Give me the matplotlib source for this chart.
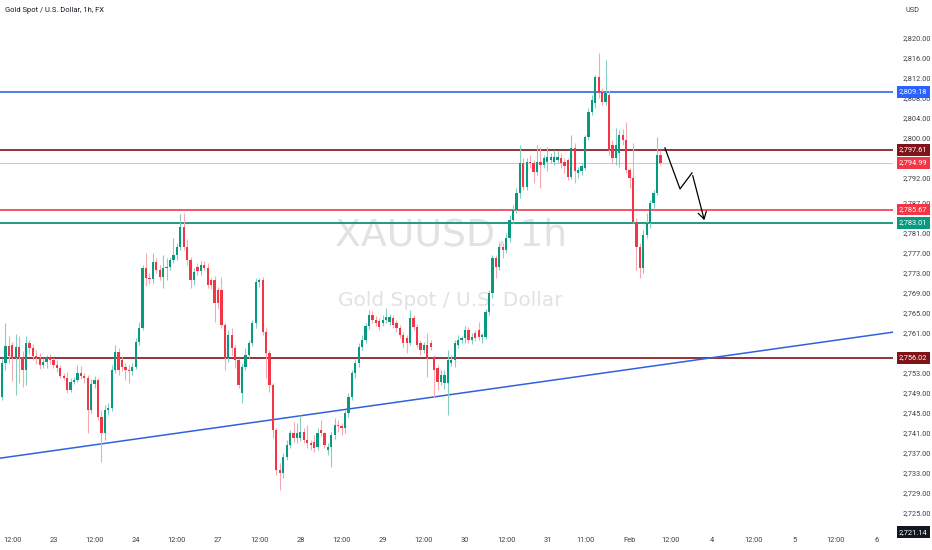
import matplotlib
matplotlib.use("Agg")
import matplotlib.pyplot as plt
from matplotlib.transforms import blended_transform_factory

# ---------------- data ----------------
opens = [
 2748.2,2754.9,2758.3,2758.5,2756.0,2758.2,2756.2,2753.6,2758.9,2757.9,2756.3,2755.9,2754.6,2755.2,2756.1,2755.5,2754.5,2753.9,2752.3,2752.0,
 2749.6,2751.2,2751.6,2752.9,2752.3,2752.0,2745.6,2750.8,2751.6,2744.2,2740.9,2745.6,2745.9,2753.6,2757.2,2755.6,2754.2,2753.6,2753.3,2754.2,
 2759.2,2761.9,2773.9,2771.9,2771.7,2775.2,2773.6,2772.2,2773.9,2774.2,2775.6,2776.6,2778.2,2782.2,2778.2,
 2775.6,2771.6,2774.2,2773.3,2774.6,2774.0,2771.6,2771.6,2769.6,2769.6,2762.6,2755.9,2760.6,2757.9,2755.6,2748.9,2754.2,2756.6,2759.0,2762.9,
 2771.2,2771.6,2761.2,2756.9,2750.6,2741.6,2733.6,2732.9,2736.2,2738.6,2740.9,2739.9,2739.9,2741.2,2739.6,2738.9,2739.2,2738.2,2741.6,2740.9,
 2737.6,2738.2,2740.6,2742.6,2742.3,2742.0,2744.9,2748.2,2752.9,2754.9,2758.2,2759.6,
 2762.3,2764.6,2763.6,2763.3,2762.9,2763.6,2763.2,2763.9,2762.9,2761.9,2760.6,2759.9,2758.9,2763.9,2762.2,2758.9,2757.6,2758.6,2758.9,2756.2,
 2753.9,2751.2,2750.9,2750.9,2754.9,2755.6,2758.6,2759.6,2760.0,2761.6,2759.6,2760.9,2761.6,2760.2,2760.2,2765.2,2768.9,2775.9,2774.2,2778.2,
 2777.6,2779.9,2783.6,2785.6,2788.9,2794.9,2790.2,2795.2,2794.9,2793.2,
 2795.2,2794.6,2795.2,2795.6,2795.2,2795.6,2795.9,2795.2,2795.6,2792.2,2797.9,2792.9,2793.3,2794.0,2800.2,2805.2,2806.9,2812.2,2809.2,2807.2,
 2808.6,2798.6,2795.9,2796.9,2800.6,2799.6,2793.6,2791.9,2783.2,2778.2,2773.9,2780.6,2782.9,2786.9,2788.9,2796.6,
]
highs = [
 2756.0,2762.9,2760.3,2759.2,2760.8,2760.3,2757.3,2760.3,2759.6,2758.8,2757.5,2757.0,2756.0,2756.6,2756.8,2756.0,2755.6,2754.5,2753.0,2753.2,
 2752.0,2752.2,2754.6,2754.3,2752.9,2752.6,2751.8,2752.3,2752.0,2745.6,2746.5,2746.9,2754.5,2758.6,2757.9,2756.2,2754.9,2754.5,2755.0,2759.9,
 2763.2,2774.5,2776.9,2773.0,2776.9,2776.0,2774.6,2776.5,2775.9,2776.2,2780.0,2779.0,2784.8,2785.0,2779.8,
 2776.2,2774.0,2775.0,2775.3,2775.4,2775.0,2772.0,2772.3,2770.2,2772.2,2763.0,2761.5,2762.0,2758.5,2756.0,2755.0,2758.0,2759.5,2763.5,2771.9,
 2772.0,2772.2,2762.0,2757.5,2751.0,2742.0,2735.0,2737.0,2739.5,2741.6,2743.2,2743.0,2744.6,2742.0,2742.5,2739.5,2740.6,2742.0,2743.6,2741.2,
 2739.0,2741.2,2743.9,2743.5,2743.0,2745.6,2749.0,2753.5,2755.6,2759.0,2760.6,2762.9,
 2765.6,2765.3,2764.3,2764.0,2764.6,2765.9,2764.8,2764.5,2763.5,2762.5,2761.2,2760.5,2765.6,2764.5,2762.8,2759.5,2759.2,2760.9,2759.5,2756.5,
 2754.5,2753.5,2753.5,2757.6,2756.5,2759.6,2760.5,2760.4,2762.3,2762.2,2760.9,2761.6,2763.2,2761.0,2765.8,2769.5,2776.5,2776.6,2779.0,2778.9,
 2781.0,2784.5,2786.5,2790.0,2798.6,2796.0,2796.0,2796.5,2795.6,2798.6,
 2798.2,2796.5,2798.2,2797.0,2797.5,2797.3,2797.0,2796.0,2796.0,2800.6,2799.0,2794.2,2795.0,2800.6,2806.0,2808.5,2812.6,2816.9,2810.0,2815.6,
 2809.5,2799.5,2802.0,2801.5,2801.8,2803.2,2794.0,2799.0,2784.0,2779.0,2781.5,2784.9,2787.5,2789.5,2800.2,2797.6,
]
lows = [
 2747.5,2753.5,2755.0,2751.3,2748.5,2751.0,2750.2,2750.5,2756.8,2755.5,2754.8,2753.8,2754.0,2753.9,2754.8,2753.9,2753.1,2751.9,2751.5,2748.9,
 2749.2,2750.8,2751.2,2751.7,2751.0,2741.0,2745.0,2749.9,2743.5,2735.2,2739.6,2744.5,2745.3,2753.0,2752.6,2753.4,2751.5,2751.0,2752.6,2753.8,
 2758.6,2761.5,2770.4,2770.8,2771.0,2773.0,2771.6,2769.9,2771.5,2773.5,2775.0,2775.5,2777.5,2777.5,2774.6,
 2770.0,2770.5,2772.6,2772.5,2773.6,2770.0,2769.8,2763.2,2765.8,2762.0,2753.6,2755.2,2756.5,2754.0,2749.9,2746.9,2753.6,2756.0,2758.4,2762.0,
 2770.2,2760.5,2751.9,2749.2,2740.0,2732.5,2729.6,2732.0,2735.5,2738.0,2739.2,2739.0,2739.3,2738.9,2737.9,2737.5,2737.2,2737.6,2740.3,2738.0,
 2736.5,2734.2,2739.8,2741.2,2740.5,2741.0,2744.2,2747.6,2752.0,2754.2,2757.5,2759.0,
 2761.8,2763.0,2762.3,2761.5,2762.3,2763.0,2762.6,2762.0,2761.2,2760.0,2758.2,2756.9,2758.5,2761.5,2758.0,2756.5,2757.0,2752.2,2757.5,2748.2,
 2749.5,2750.5,2749.8,2744.6,2754.3,2754.2,2758.0,2759.0,2759.0,2759.0,2758.8,2759.3,2759.5,2759.0,2759.8,2764.6,2768.0,2772.0,2773.5,2776.0,
 2777.0,2779.2,2782.9,2785.0,2788.0,2789.5,2789.5,2794.0,2791.0,2792.5,
 2789.9,2794.0,2793.3,2795.0,2794.6,2795.0,2794.0,2793.0,2791.5,2791.8,2791.0,2791.9,2792.5,2793.5,2799.6,2804.5,2806.0,2808.0,2806.5,2806.5,
 2796.5,2795.0,2794.5,2794.2,2798.5,2793.0,2790.0,2783.0,2773.6,2771.9,2773.0,2780.0,2782.0,2786.0,2788.5,2794.5,
]
closes = [
 2754.9,2758.3,2756.3,2756.0,2758.2,2756.2,2753.6,2758.9,2757.9,2756.3,2755.9,2754.6,2755.2,2756.1,2755.5,2754.5,2753.9,2752.3,2752.0,2749.6,
 2751.2,2751.6,2752.9,2752.3,2752.0,2745.6,2750.8,2751.6,2744.2,2740.9,2745.6,2745.9,2753.6,2757.2,2753.6,2754.2,2753.6,2753.3,2754.2,2759.2,
 2761.9,2773.9,2771.9,2771.7,2775.2,2773.6,2772.2,2773.9,2774.2,2775.6,2776.6,2778.2,2782.2,2778.2,2775.6,
 2771.6,2773.2,2773.3,2774.6,2774.0,2770.6,2770.6,2766.9,2766.9,2762.6,2755.9,2760.6,2757.9,2755.6,2750.6,2754.2,2756.6,2759.0,2762.9,2771.2,
 2771.6,2761.2,2756.9,2750.6,2741.6,2733.6,2732.9,2736.2,2738.6,2740.9,2739.9,2740.9,2741.2,2739.6,2738.9,2738.6,2737.9,2740.9,2740.9,2738.6,
 2738.2,2740.6,2742.6,2742.3,2742.0,2744.9,2748.2,2752.9,2754.9,2758.2,2759.6,2762.3,
 2764.6,2763.6,2762.9,2762.2,2763.6,2764.2,2764.2,2762.6,2761.9,2760.6,2758.9,2758.9,2763.9,2762.2,2758.6,2757.6,2758.6,2755.9,2758.2,2753.6,
 2751.2,2752.6,2752.6,2755.6,2755.6,2758.9,2759.6,2760.0,2761.6,2759.6,2760.2,2759.9,2760.2,2760.6,2765.2,2768.9,2775.9,2774.2,2778.2,2777.6,
 2779.9,2783.6,2785.6,2788.9,2794.9,2790.2,2795.2,2794.9,2793.2,2795.2,
 2794.6,2795.9,2796.2,2796.2,2796.2,2796.2,2794.9,2794.3,2792.2,2797.9,2793.3,2793.6,2794.3,2800.2,2805.2,2807.6,2812.2,2808.9,2807.2,2808.9,
 2797.6,2795.9,2798.6,2800.6,2799.6,2793.6,2791.9,2783.2,2778.2,2773.9,2780.6,2782.9,2786.9,2788.9,2796.6,2794.99,
]

time_labels = ["12:00", "23", "12:00", "24", "12:00", "27", "12:00", "28", "12:00", "29", "12:00",
               "30", "12:00", "31", "11:00", "Feb", "12:00", "4", "12:00", "5", "12:00", "6"]
price_ticks = [2820, 2816, 2812, 2808, 2804, 2800, 2792, 2787, 2781, 2777, 2773, 2769,
               2765, 2761, 2753, 2749, 2745, 2741, 2737, 2733, 2729, 2725]

level_prices = [2809.18, 2797.61, 2794.99, 2785.67, 2783.01, 2756.02]
level_colors = ["#2f66e8", "#7e1216", "#f6b3ba", "#ef3a4c", "#1f9a80", "#7e1216"]
level_widths = [1.2, 1.2, 0.7, 1.2, 1.4, 1.2]
label_prices = [2809.18, 2797.61, 2794.99, 2785.67, 2783.01, 2756.02, 2721.14]
label_colors = ["#2962ff", "#801318", "#f23645", "#f23645", "#089981", "#801318", "#131722"]

trend_bars = [0, 250]
trend_prices = [2736.0, 2760.2]
arrow_bars = [193.3, 197.7, 201.2, 205.0]
arrow_prices = [2798.0, 2789.8, 2793.0, 2783.0]

UP, DOWN = "#089981", "#f23645"
UP_W, DOWN_W = "#86cfc0", "#f6a9b2"

# ---------------- figure ----------------
W, H = 932, 550
fig = plt.figure(figsize=(W / 100, H / 100), dpi=100)
fig.patch.set_facecolor("white")
ax_bottom = 19
ax = fig.add_axes([0, ax_bottom / H, 893 / W, (H - ax_bottom) / H])
ax.set_facecolor("white")
for s in ax.spines.values():
    s.set_visible(False)

ax.set_xlim(-0.58, 259.8)
ax.set_ylim(2721.38, 2827.58)

# watermark
wm1 = ax.text(0.505, 0.555, "XAUUSD, 1h", transform=ax.transAxes, ha="center", va="center",
              fontsize=40, color="#e2e2e2", zorder=0,
              family=["Liberation Sans Narrow", "DejaVu Sans"])
wm2 = ax.text(0.5045, 0.435, "Gold Spot / U.S. Dollar", transform=ax.transAxes, ha="center", va="center",
              fontsize=18, color="#e2e2e2", zorder=0,
              family=["Liberation Sans Narrow", "DejaVu Sans"])
fig.canvas.draw()
r = fig.canvas.get_renderer()
for t, target in ((wm1, 232), (wm2, 225)):
    w = t.get_window_extent(r).width
    t.set_fontsize(t.get_fontsize() * target / w)

# horizontal levels
for p, c, lw in zip(level_prices, level_colors, level_widths):
    ax.axhline(p, color=c, lw=lw, zorder=1)

# trend line
ax.axline((trend_bars[0], trend_prices[0]), (trend_bars[1], trend_prices[1]),
          color="#2f62de", lw=1.1, zorder=1)

# candles
n = len(closes)
for i in range(n):
    o, h, l, c = opens[i], highs[i], lows[i], closes[i]
    up = c >= o
    ax.vlines(i, l, h, color=UP_W if up else DOWN_W, lw=0.8, zorder=2)
    ax.bar(i, max(abs(c - o), 0.25), bottom=min(o, c), width=0.66,
           color=UP if up else DOWN, linewidth=0, zorder=3)

# drawn arrow
ax.plot(arrow_bars[:-1], arrow_prices[:-1], color="black", lw=0.9, zorder=4)
ax.annotate("", xy=(arrow_bars[-1], arrow_prices[-1]), xytext=(arrow_bars[-2], arrow_prices[-2]),
            arrowprops=dict(arrowstyle="->,head_length=0.5,head_width=0.3", color="black", lw=0.9),
            zorder=4)

# x axis (time)
tick_pos = [3 + 12 * k for k in range(len(time_labels))]
tick_pos[14] -= 1
ax.set_xticks(tick_pos)
ax.set_xticklabels(time_labels)
ax.tick_params(axis="x", length=0, pad=4.2, labelsize=5.3, labelcolor="#3b3f4a")

# y axis (price)
ax.yaxis.tick_right()
ax.set_yticks(price_ticks)
ax.set_yticklabels([f"{v:,.2f}" for v in price_ticks])
ax.tick_params(axis="y", length=0, pad=7.0, labelsize=5.3, labelcolor="#3b3f4a")
for lab in ax.get_xticklabels() + ax.get_yticklabels():
    lab.set_family(["Roboto", "DejaVu Sans"])

# price labels
ytr = blended_transform_factory(ax.transAxes, ax.transData)
for p, c in zip(label_prices, label_colors):
    ax.text(899 / 893, p, f"{p:,.2f}", transform=ytr, ha="left", va="center",
            fontsize=5.3, color="white", family=["Roboto", "DejaVu Sans"],
            bbox=dict(boxstyle="square,pad=0.32", fc=c, ec="none"),
            clip_on=False, zorder=10)

# titles
fig.text(5 / W, 1 - 10 / H, "Gold Spot / U.S. Dollar, 1h, FX", ha="left", va="center",
         fontsize=5.4, color="#131722", family=["Roboto", "DejaVu Sans"])
fig.text(906 / W, 1 - 10 / H, "USD", ha="left", va="center",
         fontsize=5.3, color="#3b3f4a", family=["Roboto", "DejaVu Sans"])

fig.savefig("out.png", dpi=100, facecolor="white")
